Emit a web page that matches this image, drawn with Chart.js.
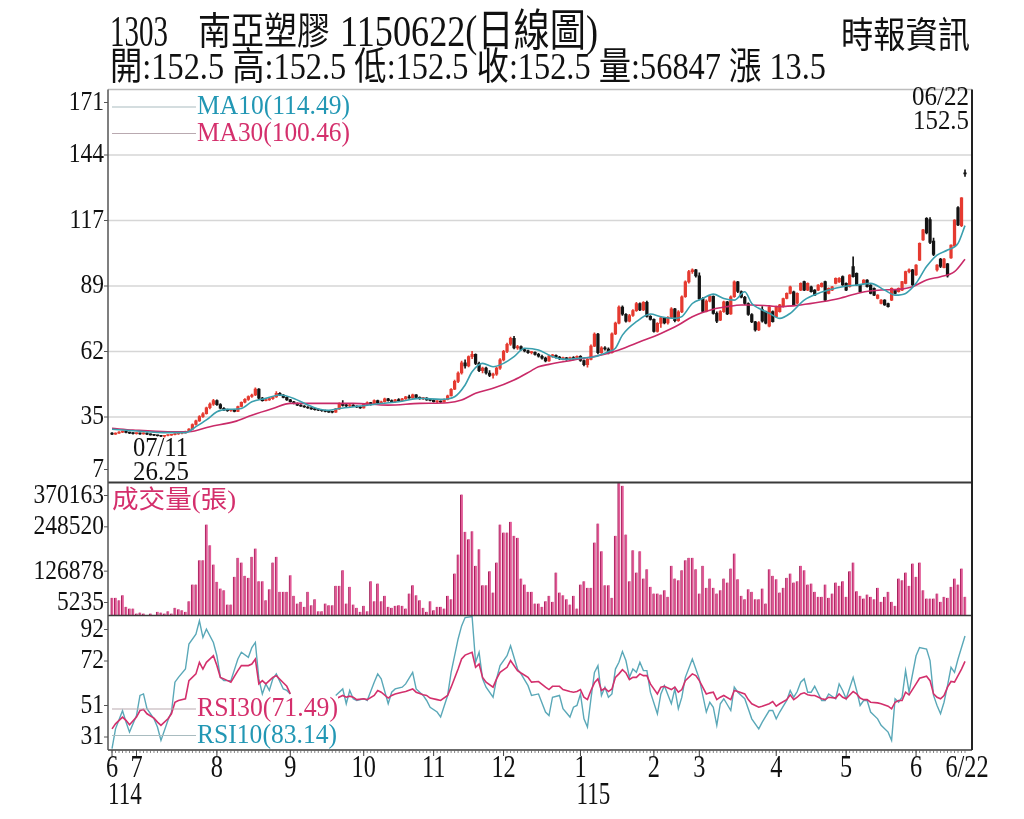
<!DOCTYPE html>
<html><head><meta charset="utf-8">
<script src="https://cdn.jsdelivr.net/npm/chart.js@4.4.1/dist/chart.umd.min.js"></script>
<style>html,body{margin:0;padding:0;background:#fff;}canvas{display:block;}</style>
</head><body>
<canvas id="c" width="1024" height="819"></canvas>
<script>
// ---------------- DATA ----------------
const titleCode = '1303';
const titleName = '南亞塑膠';
const titleDate = '1150622(日線圖)';
const quoteLine = '開:152.5 高:152.5 低:152.5 收:152.5 量:56847 漲 13.5';
const sourceText = '時報資訊';

const monthLabels = ['6','7','8','9','10','11','12','1','2','3','4','5','6'];
const monthDays   = [7,23,21,21,20,20,22,21,13,22,20,20,15];
const lastDayLabel = '6/22';
const yearLabels = ['114','115'];
const yearMonthIndex = [0,7];

const priceTickLabels = ['7','35','62','89','117','144','171'];
const priceRange = [7.3, 171.3];
const volTickLabels = ['5235','126878','248520','370163'];
const volRange = [5235, 370163];
const rsiTickLabels = ['31','51','72','92'];
const rsiRange = [30.9, 92.1];

const openP = [27.9,27.5,27.9,28.3,28.6,28.2,27.9,27.7,27.8,27.6,
27.9,27.5,27.2,27.0,26.8,26.6,26.9,27.0,27.3,27.6,
27.9,28.0,28.6,29.6,31.5,33.0,34.8,36.0,38.5,40.0,
41.5,39.8,38.3,37.6,37.3,37.5,37.0,39.0,40.8,42.0,
43.2,43.8,46.3,42.5,41.5,41.8,42.3,43.0,44.5,43.8,
42.8,41.8,41.0,40.3,39.6,39.2,38.8,38.4,38.0,37.7,
37.5,37.3,37.0,36.7,36.6,38.0,40.0,39.5,39.3,39.6,
39.1,38.8,38.4,40.0,40.6,39.9,41.5,40.5,41.0,42.2,
41.5,41.0,41.8,41.5,42.2,43.0,42.6,43.9,42.8,42.3,
42.5,41.8,41.6,41.0,41.2,40.9,42.0,43.5,46.2,49.5,
53.0,57.2,56.0,59.8,60.8,57.0,54.0,55.0,53.0,52.0,
52.5,55.0,58.5,62.0,65.0,67.5,63.5,64.0,62.8,62.2,
61.5,61.6,60.8,60.0,59.2,58.0,60.2,60.4,59.6,59.0,
59.3,58.6,59.4,58.8,60.0,58.2,56.5,58.7,64.2,69.2,
61.5,63.5,63.0,61.5,69.3,73.8,80.5,77.5,74.6,77.0,
79.0,82.0,79.3,82.5,76.6,75.4,70.3,73.7,76.0,73.9,
76.2,79.8,74.8,78.5,84.8,91.0,95.3,96.0,93.5,84.0,
78.7,83.0,85.0,77.9,75.0,78.6,82.7,77.6,84.8,91.0,
87.0,84.6,82.0,77.4,74.3,71.0,79.5,78.6,72.5,78.6,
76.5,78.6,80.7,84.1,86.2,86.9,82.1,87.6,91.1,87.6,
89.0,87.6,87.6,89.0,91.1,86.2,87.6,90.4,91.0,93.2,
90.4,89.0,97.4,94.6,89.7,90.4,91.8,89.7,88.3,84.1,
82.0,83.4,82.0,83.4,87.6,86.9,87.6,90.4,95.3,96.0,
93.9,100.1,108.5,117.5,117.0,108.0,96.0,100.5,97.0,98.5,
101.0,106.0,122.0,114.5,136.5];

const highP = [28.1,28.0,28.5,28.8,28.7,28.3,28.1,28.0,27.9,28.0,
28.0,27.6,27.3,27.1,26.9,27.0,27.2,27.4,27.7,28.0,
28.2,28.8,29.8,31.8,33.3,35.2,36.5,38.8,40.5,42.0,
41.8,40.2,38.6,37.9,37.8,37.7,39.2,41.0,42.3,43.5,
44.2,46.8,46.5,42.8,42.2,42.6,43.3,45.2,44.8,44.0,
43.0,42.0,41.2,40.5,39.8,39.4,39.0,38.6,38.2,37.9,
37.7,37.5,37.3,36.9,38.2,40.5,41.5,40.0,39.9,39.8,
39.3,39.0,40.2,41.0,40.8,41.8,41.7,41.3,42.5,42.4,
41.8,42.0,42.3,42.4,43.3,43.8,44.2,44.0,43.0,42.8,
42.7,42.2,41.9,41.5,41.4,42.2,43.8,46.5,50.0,53.5,
58.0,58.5,60.2,62.0,61.0,57.5,55.5,55.5,54.0,53.0,
55.5,59.0,62.5,65.5,68.0,68.3,64.5,64.3,63.2,62.6,
62.0,61.8,61.2,60.5,59.6,60.5,60.8,60.6,60.0,59.6,
59.5,59.6,59.8,60.2,60.3,58.5,59.0,64.8,69.8,69.5,
64.0,64.0,63.5,69.8,74.2,81.0,81.0,77.8,77.5,79.5,
82.5,82.3,82.8,83.0,77.0,75.6,74.0,76.5,76.2,76.5,
80.3,80.0,79.0,85.2,91.5,95.8,96.5,96.3,94.8,84.5,
83.5,85.3,85.2,78.5,79.0,83.0,82.9,85.2,91.5,91.2,
87.3,85.0,82.3,77.8,74.6,74.5,80.7,78.8,80.8,78.9,
80.9,81.6,84.3,86.4,89.3,87.2,86.4,90.6,91.4,90.6,
89.3,87.8,89.9,90.6,91.4,88.5,89.2,92.7,92.8,93.5,
90.6,94.1,101.5,94.8,89.9,92.0,92.0,89.9,88.5,85.7,
83.6,83.6,82.2,88.5,87.8,88.5,91.3,95.5,96.5,96.3,
98.2,107.3,112.9,117.8,117.8,109.3,98.2,100.8,100.8,98.8,
106.5,117.0,122.4,126.2,137.8];

const lowP = [27.3,27.4,27.8,28.1,28.0,27.7,27.5,27.5,27.4,27.5,
27.3,27.0,26.8,26.6,26.4,26.25,26.7,26.9,27.2,27.4,
27.6,27.9,28.5,29.5,31.2,32.8,34.5,35.8,38.0,39.5,
39.5,38.0,37.3,37.0,37.0,36.8,36.9,38.8,40.5,41.6,
42.8,43.5,42.2,41.2,41.3,41.6,42.0,42.8,43.5,42.6,
41.6,40.8,40.1,39.4,39.0,38.6,38.2,37.8,37.5,37.3,
37.0,36.8,36.5,36.3,36.5,37.8,39.2,38.8,38.9,38.9,
38.5,38.2,38.3,39.7,39.6,39.8,40.2,40.3,40.8,41.2,
40.8,40.8,41.2,41.3,42.0,42.4,42.4,42.5,42.0,41.9,
41.6,41.3,40.8,40.5,40.6,40.8,41.8,43.3,46.0,49.0,
52.5,55.0,55.5,59.0,56.5,53.5,53.0,52.5,51.5,50.8,
52.0,54.5,58.0,61.5,64.5,63.0,62.8,62.5,61.8,61.2,
61.0,60.4,59.6,58.8,57.6,57.8,59.5,59.2,58.6,58.5,
58.2,58.4,58.5,58.6,57.8,56.0,55.4,58.5,64.0,61.0,
61.2,62.5,61.0,61.3,69.0,73.5,77.0,74.2,74.3,76.6,
78.7,79.0,79.0,76.3,75.0,70.0,70.0,72.0,73.5,73.4,
76.0,74.3,74.5,78.2,84.5,90.5,94.5,93.0,83.5,78.2,
78.5,82.7,77.5,74.0,74.8,78.3,77.3,77.4,84.5,86.5,
84.3,81.5,77.0,74.0,70.5,70.7,74.2,73.5,72.2,74.2,
76.3,78.4,80.5,83.9,86.0,81.2,81.9,87.4,87.4,87.4,
86.7,85.3,87.4,88.8,83.2,86.0,87.4,90.2,90.8,89.5,
87.4,88.8,93.0,89.5,86.7,90.2,88.8,86.0,85.3,83.9,
81.8,81.2,80.5,83.2,86.0,86.7,87.4,90.2,94.8,89.5,
93.7,99.9,108.3,111.0,107.0,102.0,95.5,97.0,96.8,93.0,
100.8,105.7,114.5,114.1,135.0];

const closeP = [27.5,27.9,28.3,28.6,28.2,27.9,27.7,27.8,27.6,27.9,
27.5,27.2,27.0,26.8,26.6,26.9,27.0,27.3,27.6,27.9,
28.0,28.6,29.6,31.5,33.0,34.8,36.0,38.5,40.0,41.5,
39.8,38.3,37.6,37.3,37.5,37.0,39.0,40.8,42.0,43.2,
43.8,46.3,42.5,41.5,41.8,42.3,43.0,44.5,43.8,42.8,
41.8,41.0,40.3,39.6,39.2,38.8,38.4,38.0,37.7,37.5,
37.3,37.0,36.7,36.6,38.0,40.0,39.5,39.3,39.6,39.1,
38.8,38.4,40.0,40.6,39.9,41.5,40.5,41.0,42.2,41.5,
41.0,41.8,41.5,42.2,43.0,42.6,43.9,42.8,42.3,42.5,
41.8,41.6,41.0,41.2,40.9,42.0,43.5,46.2,49.5,53.0,
57.2,56.0,59.8,60.8,57.0,54.0,55.0,53.0,52.0,52.5,
55.0,58.5,62.0,65.0,67.5,63.5,64.0,62.8,62.2,61.5,
61.6,60.8,60.0,59.2,58.0,60.2,60.4,59.6,59.0,59.3,
58.6,59.4,58.8,60.0,58.2,56.5,58.7,64.2,69.2,61.5,
63.5,63.0,61.5,69.3,73.8,80.5,77.5,74.6,77.0,79.0,
82.0,79.3,82.5,76.6,75.4,70.3,73.7,76.0,73.9,76.2,
79.8,74.8,78.5,84.8,91.0,95.3,96.0,93.5,84.0,78.7,
83.0,85.0,77.9,74.6,78.6,82.7,77.6,84.8,91.0,87.0,
84.6,82.0,77.4,74.3,71.0,74.0,74.6,73.8,80.5,74.4,
80.7,81.4,84.1,86.2,89.0,81.4,86.2,90.4,87.6,90.4,
86.9,85.5,89.7,90.4,83.4,88.3,89.0,92.5,92.5,89.7,
87.6,93.9,93.2,89.7,86.9,91.8,89.0,86.2,85.5,85.5,
83.4,81.4,80.7,88.3,86.2,88.3,91.1,95.3,96.0,89.7,
98.0,107.1,112.7,111.5,107.5,102.5,98.0,97.5,100.5,93.5,
106.4,116.8,114.8,126.1,136.5];

const volume = [53700,53700,47300,61000,29000,24400,24400,10700,13500,10700,
6100,10700,6100,15300,13500,10700,17100,10700,26300,22600,
19900,15300,44600,90300,90300,157000,157000,255000,198200,145200,
97600,79300,74700,35400,35400,111300,163500,150700,114100,108600,
166200,189100,99400,99400,47300,77500,150700,166200,70200,70200,
70200,115900,59200,38200,42700,29000,70200,33600,50000,17100,
17100,38200,33600,33600,86600,86600,129600,38200,83900,35400,
26300,15300,31800,17100,99400,44600,93000,44600,59200,29000,
26300,31800,33600,31800,24400,65600,88500,61000,47300,26300,
15300,44600,19900,29000,29000,24400,59200,50000,120500,172600,
337200,234800,214700,236600,141500,187200,88500,88500,126900,68300,
150700,255000,233000,233000,262200,223800,218300,106800,90300,70200,
70200,38200,38200,
29000,44600,59200,42700,123200,68300,61000,50000,35400,59200,
24400,90300,99400,81100,81100,205500,257700,181800,88500,88500,
53700,223800,370163,361000,227500,99400,184500,123200,181800,106800,
132400,83900,65600,65600,62900,74700,56400,141500,106800,102200,
129600,157000,163500,163500,132400,65600,141500,81100,106800,81100,
65600,74700,106800,95800,134200,175400,104900,59200,50000,77500,
70200,50000,50000,79300,38200,132400,114100,104900,68300,81100,
108600,120500,95800,99400,141500,129600,90300,93000,70200,56400,
56400,90300,53700,65600,95800,86600,99400,56400,126900,150700,
72000,59200,51900,62900,56400,50000,81100,42700,56400,70200,
42700,31800,106800,102200,123200,86600,147900,111300,150700,74700,
51900,51900,51900,65600,42700,56400,53700,83900,106800,90300,
134200,56847];

// moving averages: [day index, value]
const ma10 = [[0,29.5],[6,28.9],[16,28.1],[21,28.1],[24,30.6],[27,33.4],[30,36.8],[33,37.8],[37,38.2],[40,41.0],[44,42.4],[48,43.8],[52,42.4],[56,39.6],[59,38.0],[62,37.4],[65,38.2],[71,39.2],[77,40.3],[82,41.0],[88,42.4],[94,42.0],[98,43.1],[101,48.0],[103,53.5],[106,57.0],[109,55.6],[112,57.0],[115,59.8],[118,63.3],[122,62.6],[126,59.8],[130,58.7],[134,59.2],[138,59.8],[142,61.9],[144,63.3],[146,68.8],[150,74.4],[154,77.6],[157,76.5],[161,75.8],[163,76.5],[166,82.0],[169,84.1],[172,85.9],[175,84.1],[178,83.4],[181,86.9],[183,82.0],[185,80.0],[188,77.9],[191,75.8],[194,77.9],[198,83.4],[202,86.2],[205,87.6],[209,89.0],[213,89.7],[217,90.4],[221,87.6],[224,85.5],[227,86.2],[230,90.4],[233,97.4],[236,102.2],[239,104.3],[242,107.1],[244,114.49]];
const ma30 = [[0,29.9],[6,29.2],[16,28.5],[22,28.5],[28,30.6],[35,32.7],[40,35.4],[46,38.2],[51,40.3],[56,40.3],[62,40.3],[69,40.3],[79,39.6],[88,40.3],[96,40.6],[100,41.7],[104,44.5],[109,46.6],[115,50.1],[120,54.0],[122,55.6],[125,56.6],[132,58.4],[140,60.5],[145,62.6],[151,66.0],[157,69.5],[162,73.0],[166,76.5],[172,79.6],[176,80.7],[180,81.4],[183,81.4],[188,81.0],[191,80.7],[197,81.4],[203,82.7],[208,84.1],[214,86.5],[220,87.6],[225,87.9],[229,89.0],[233,91.8],[237,93.2],[241,95.3],[244,100.46]];

// RSI: [day index, value]; null = hidden behind the legend
const rsi10 = [[0,31.5],[1,40.6],[3,48.9],[4,43.7],[5,39.1],[7,46.7],[8,55.9],[9,56.6],[10,49.8],[12,45.2],[13,41.4],[14,35.3],[16,44.5],[17,48.3],[18,62.0],[19,64.2],[21,68.0],[22,79.5],[24,84.0],[25,90.1],[26,82.5],[27,86.3],[29,80.2],[30,74.1],[31,64.2],[32,62.7],[34,62.7],[36,72.6],[37,75.7],[39,73.4],[40,77.9],[41,80.2],[42,63.5],[43,56.6],[44,61.2],[45,58.2],[46,63.5],[47,65.8],[49,58.9],[50,58.2],[51,56.6],[52,null],[64,55.9],[66,58.9],[67,52.1],[68,58.2],[69,54.4],[70,53.6],[72,54.4],[73,53.6],[75,62.0],[76,65.8],[77,63.5],[79,52.1],[80,57.4],[81,58.9],[83,59.7],[84,61.2],[86,66.5],[87,58.9],[89,55.9],[90,53.6],[91,50.5],[93,48.3],[94,46.0],[96,55.9],[97,66.5],[99,81.8],[100,87.8],[101,91.6],[103,92.1],[104,71.1],[105,75.7],[106,63.5],[107,59.7],[109,55.1],[110,63.5],[111,69.6],[113,74.1],[114,78.7],[116,68.0],[117,65.8],[119,60.4],[120,55.9],[122,56.6],[124,48.3],[125,46.7],[126,55.1],[128,55.9],[129,49.8],[131,46.0],[132,50.5],[133,51.3],[134,56.6],[135,45.2],[136,41.4],[137,54.4],[138,66.5],[139,69.6],[140,55.9],[141,59.7],[142,55.1],[143,56.6],[144,68.0],[145,71.1],[146,76.0],[147,71.9],[148,64.2],[149,68.0],[150,66.5],[151,71.1],[152,67.3],[153,67.3],[154,57.4],[156,47.5],[157,56.6],[158,60.4],[160,52.1],[161,58.9],[162,49.8],[163,55.1],[164,64.2],[166,72.6],[167,68.0],[168,63.5],[170,48.3],[171,52.8],[172,50.5],[173,42.2],[174,52.1],[175,54.4],[177,49.0],[178,59.7],[179,57.4],[181,54.4],[182,49.8],[183,45.2],[185,40.6],[186,43.7],[188,49.0],[189,49.0],[190,45.2],[191,48.3],[193,53.6],[194,58.2],[195,55.1],[196,57.7],[197,62.0],[198,63.5],[199,57.4],[200,57.4],[201,60.1],[203,53.6],[204,53.6],[205,56.6],[207,54.4],[208,61.2],[209,58.2],[210,54.4],[212,64.2],[213,58.2],[214,51.3],[215,53.6],[216,53.6],[217,48.3],[219,45.2],[220,42.2],[222,39.1],[223,35.3],[224,54.4],[225,52.8],[226,55.1],[227,67.3],[228,57.4],[230,74.1],[231,77.9],[233,77.2],[234,71.9],[235,55.9],[236,51.3],[237,47.5],[238,52.8],[239,60.4],[240,68.8],[241,66.5],[242,72.6],[243,77.9],[244,83.14]];
const rsi30 = [[0,40.6],[1,42.9],[3,46.0],[4,44.5],[5,42.5],[7,46.0],[8,49.0],[9,49.5],[10,47.5],[12,45.5],[13,43.7],[14,42.2],[16,45.2],[17,47.5],[18,52.8],[19,53.6],[21,54.4],[22,62.7],[24,65.8],[25,71.1],[26,68.0],[27,71.1],[29,74.1],[30,69.6],[31,64.2],[32,63.5],[34,62.0],[36,67.3],[37,69.6],[39,69.6],[40,70.3],[41,72.6],[42,61.2],[43,62.7],[44,61.2],[45,62.7],[46,64.2],[47,65.0],[49,61.7],[50,60.1],[51,56.6],[52,null],[64,54.4],[66,55.9],[67,55.1],[68,55.6],[69,55.1],[70,54.0],[72,54.4],[73,54.0],[75,55.9],[76,58.2],[77,57.4],[79,54.7],[80,55.9],[81,56.6],[83,57.4],[84,57.7],[86,58.9],[87,57.4],[89,56.2],[90,55.9],[91,54.7],[93,54.0],[94,53.6],[96,55.9],[97,59.7],[99,68.0],[100,72.6],[101,74.4],[103,75.7],[104,68.8],[105,70.3],[106,64.2],[107,62.0],[109,59.7],[110,63.5],[111,66.5],[113,68.8],[114,71.9],[116,67.3],[117,66.2],[119,64.2],[120,62.0],[122,62.3],[124,59.7],[125,58.6],[126,60.1],[128,60.1],[129,58.6],[131,57.7],[132,57.4],[133,57.7],[134,58.6],[135,55.1],[136,54.0],[137,58.2],[138,61.7],[139,63.5],[140,58.2],[141,59.2],[142,57.7],[143,58.9],[144,64.2],[145,65.8],[146,67.7],[147,66.2],[148,63.2],[149,64.2],[150,64.2],[151,65.8],[152,65.0],[153,65.0],[154,61.2],[156,56.6],[157,59.7],[158,60.1],[160,58.6],[161,59.7],[162,57.4],[163,58.6],[164,62.7],[166,65.8],[167,65.0],[168,62.7],[170,56.6],[171,57.1],[172,57.4],[173,54.0],[174,55.1],[175,55.9],[177,54.0],[178,58.2],[179,57.7],[181,56.6],[182,54.0],[183,52.1],[185,50.5],[186,51.0],[188,52.1],[189,53.1],[190,51.0],[191,52.1],[193,54.0],[194,56.2],[195,54.0],[196,55.1],[197,56.6],[198,57.1],[199,56.2],[200,55.9],[201,55.9],[203,54.4],[204,54.0],[205,55.1],[207,54.7],[208,56.6],[209,55.1],[210,54.4],[212,57.7],[213,56.6],[214,54.7],[215,54.0],[216,54.0],[217,52.8],[219,52.5],[220,52.1],[222,51.0],[223,49.8],[224,52.8],[225,53.6],[226,53.6],[227,57.4],[228,56.2],[230,61.2],[231,63.8],[233,64.7],[234,62.7],[235,56.6],[236,55.1],[237,54.4],[238,55.9],[239,59.7],[240,62.3],[241,62.0],[242,65.0],[243,68.0],[244,71.49]];

const ma10Label = 'MA10(114.49)';
const ma30Label = 'MA30(100.46)';
const rsi30Label = 'RSI30(71.49)';
const rsi10Label = 'RSI10(83.14)';
const volLabel = '成交量(張)';
const lowNote = ['07/11','26.25'];
const highNote = ['06/22','152.5'];

// ---------------- LAYOUT / STYLE ----------------
const LAY = {left:108, right:972, top:89.5, priceBottom:482.5, volBottom:615.5, rsiTop:616.5, bottom:750};
const X_MIN = -1.15, X_MAX = 246.0;
const SERIF = '"Liberation Serif","Noto Sans CJK TC",serif';
const C = {up:'#e53a30', down:'#141414', vol:'#e25a97', volEdge:'#a3215a', ma10:'#3a9fae', ma30:'#c92a68',
  rsi10:'#5aa8b8', rsi30:'#d3306c', teal:'#2297b4', pink:'#d42f6c', grid:'#d6d6d6'};

function stretch(vmin, vmax, pTop, pBottom){
  const upp = (vmax - vmin) / (pBottom - pTop);
  return {min: vmin - (LAY.bottom - pBottom) * upp, max: vmax + (pTop - LAY.top) * upp};
}
const eP = stretch(priceRange[0], priceRange[1], LAY.top, LAY.priceBottom);
const eV = stretch(volRange[0], volRange[1], LAY.priceBottom, LAY.volBottom);
const eR = stretch(rsiRange[0], rsiRange[1], LAY.rsiTop, LAY.bottom);

const days = closeP.map((_, i) => i);
const candleColors = days.map(i => closeP[i] > openP[i] ? C.up : C.down);
const pts = arr => arr.map(p => ({x: p[0], y: p[1]}));

function drawText(ctx, s, x, y, o){
  ctx.save();
  ctx.font = o.size + 'px ' + (o.family || SERIF);
  ctx.fillStyle = o.color || '#111';
  ctx.textBaseline = 'middle';
  ctx.textAlign = 'left';
  const w = ctx.measureText(s).width;
  const sx = o.width ? o.width / w : (o.sx || 1);
  const dw = w * sx;
  let left = x;
  if (o.align === 'right') left = x - dw; else if (o.align === 'center') left = x - dw / 2;
  ctx.translate(left, y); ctx.scale(sx, 1);
  ctx.fillText(s, 0, 0);
  ctx.restore();
}
function hline(ctx, x1, x2, y, color, w){ ctx.save(); ctx.strokeStyle=color; ctx.lineWidth=w; ctx.beginPath(); ctx.moveTo(x1,y); ctx.lineTo(x2,y); ctx.stroke(); ctx.restore(); }
function vline(ctx, x, y1, y2, color, w){ ctx.save(); ctx.strokeStyle=color; ctx.lineWidth=w; ctx.beginPath(); ctx.moveTo(x,y1); ctx.lineTo(x,y2); ctx.stroke(); ctx.restore(); }

const overlay = {
  id: 'overlay',
  beforeDraw(chart){
    const ctx = chart.ctx;
    ctx.save(); ctx.fillStyle = '#fff'; ctx.fillRect(0,0,chart.width,chart.height); ctx.restore();
  },
  beforeDatasetsDraw(chart){
    const ctx = chart.ctx, s = chart.scales.yP;
    const n = priceTickLabels.length - 1;
    for (let k = 1; k < n; k++){
      const v = priceRange[0] + k * (priceRange[1] - priceRange[0]) / n;
      hline(ctx, LAY.left, LAY.right, s.getPixelForValue(v), C.grid, 1.6);
    }
  },
  afterDatasetsDraw(chart){
    const ctx = chart.ctx, sx = chart.scales.x;
    // white box behind RSI legend
    ctx.save(); ctx.fillStyle = '#fff'; ctx.fillRect(197, 697, 141, 51); ctx.restore();
    // frame
    hline(ctx, LAY.left, LAY.right, LAY.top, '#bdbdbd', 1.5);
    hline(ctx, LAY.left, LAY.right, LAY.priceBottom, '#3a3a3a', 2);
    hline(ctx, LAY.left, LAY.right, LAY.volBottom, '#3a3a3a', 1.5);
    hline(ctx, LAY.left, LAY.right, LAY.bottom, '#3a3a3a', 1.5);
    vline(ctx, LAY.left, LAY.top, LAY.bottom, '#555', 1.5);
    vline(ctx, LAY.right, LAY.top, LAY.bottom, '#222', 2);

    // y tick labels
    const yLabels = (labels, range, scale, top, bottom) => {
      const n = labels.length - 1;
      labels.forEach((lab, k) => {
        const v = range[0] + k * (range[1] - range[0]) / n;
        let y = scale.getPixelForValue(v);
        y = Math.min(Math.max(y, top + 13), bottom - 13);
        hline(ctx, LAY.left - 4, LAY.left, y, '#555', 1);
        drawText(ctx, lab, 104, y, {size: 28, sx: 0.84, align: 'right', color: '#111'});
      });
    };
    yLabels(priceTickLabels, priceRange, chart.scales.yP, LAY.top, LAY.priceBottom);
    yLabels(volTickLabels, volRange, chart.scales.yV, LAY.priceBottom, LAY.volBottom);
    yLabels(rsiTickLabels, rsiRange, chart.scales.yR, LAY.rsiTop, LAY.bottom);

    // x ticks
    const starts = []; let acc = 0;
    monthDays.forEach(d => { starts.push(acc); acc += d; });
    days.forEach(i => vline(ctx, sx.getPixelForValue(i), LAY.bottom, LAY.bottom + 3, '#666', 0.8));
    starts.forEach(i => vline(ctx, sx.getPixelForValue(i), LAY.bottom, LAY.bottom + 6, '#444', 1));
    monthLabels.forEach((lab, m) => {
      drawText(ctx, lab, sx.getPixelForValue(starts[m]), 769, {size: 32, sx: 0.76, align: 'center'});
    });
    drawText(ctx, lastDayLabel, sx.getPixelForValue(days.length - 1) + 2, 769, {size: 32, sx: 0.76, align: 'center'});
    yearLabels.forEach((lab, k) => {
      drawText(ctx, lab, sx.getPixelForValue(starts[yearMonthIndex[k]]) - 4, 796, {size: 32, sx: 0.72});
    });

    // legends
    hline(ctx, 112, 196, 107, '#a9bcc0', 1.2);
    hline(ctx, 112, 196, 133.5, '#b9a9b0', 1.2);
    drawText(ctx, ma10Label, 197, 107, {size: 27, width: 153, color: C.teal});
    drawText(ctx, ma30Label, 197, 133.5, {size: 27, width: 153, color: C.pink});
    drawText(ctx, highNote[0], 969, 98, {size: 27, width: 57, align: 'right'});
    drawText(ctx, highNote[1], 969, 122, {size: 27, width: 56, align: 'right'});
    drawText(ctx, lowNote[0], 133, 449, {size: 27, width: 55});
    drawText(ctx, lowNote[1], 133, 473, {size: 27, width: 56});
    drawText(ctx, volLabel, 112, 501, {size: 25, width: 124, color: C.pink});
    hline(ctx, 112, 196, 709, '#b9aab0', 1.2);
    hline(ctx, 112, 196, 735.5, '#a9bcc0', 1.2);
    drawText(ctx, rsi30Label, 197, 709, {size: 27, width: 141, color: C.pink});
    drawText(ctx, rsi10Label, 197, 736, {size: 27, width: 140, color: C.teal});

    // header
    drawText(ctx, titleCode, 110, 34, {size: 44, width: 58});
    drawText(ctx, titleName, 198, 34, {size: 38, width: 132});
    drawText(ctx, titleDate, 340, 34, {size: 44, width: 258});
    drawText(ctx, quoteLine, 110, 69, {size: 38, width: 716});
    drawText(ctx, sourceText, 841, 39, {size: 36, width: 129});
  }
};

new Chart(document.getElementById('c'), {
  type: 'bar',
  data: {
    datasets: [
      {type:'line', label:'MA10', data: pts(ma10), yAxisID:'yP', borderColor:C.ma10, borderWidth:1.6, pointRadius:0, cubicInterpolationMode:'monotone', order:1},
      {type:'line', label:'MA30', data: pts(ma30), yAxisID:'yP', borderColor:C.ma30, borderWidth:1.6, pointRadius:0, cubicInterpolationMode:'monotone', order:1},
      {type:'line', label:'RSI30', data: pts(rsi30), yAxisID:'yR', borderColor:C.rsi30, borderWidth:1.6, pointRadius:0, tension:0, spanGaps:false, order:1},
      {type:'line', label:'RSI10', data: pts(rsi10), yAxisID:'yR', borderColor:C.rsi10, borderWidth:1.4, pointRadius:0, tension:0, spanGaps:false, order:1},
      {type:'bar', label:'wick', data: days.map(i => ({x:i, y:[lowP[i], highP[i]]})), yAxisID:'yP', backgroundColor: candleColors, barThickness:1, grouped:false, order:3},
      {type:'bar', label:'body', data: days.map(i => ({x:i, y:[openP[i], closeP[i]]})), yAxisID:'yP', backgroundColor: candleColors, barThickness:2.6, minBarLength:1, grouped:false, order:2},
      {type:'bar', label:'volume', data: days.map(i => ({x:i, y:[volRange[0], volume[i]]})), yAxisID:'yV', backgroundColor: C.vol, borderColor: C.volEdge, borderWidth:{left:1, right:0, top:0, bottom:0}, barThickness:2.6, grouped:false, order:2}
    ]
  },
  options: {
    responsive:false, animation:false, events:[],
    layout:{padding:{left:LAY.left, right:1024-LAY.right, top:LAY.top, bottom:819-LAY.bottom}},
    plugins:{legend:{display:false}, tooltip:{enabled:false}},
    scales:{
      x:{type:'linear', min:X_MIN, max:X_MAX, offset:false, display:false},
      yP:{type:'linear', position:'left', min:eP.min, max:eP.max, display:false},
      yV:{type:'linear', position:'left', min:eV.min, max:eV.max, display:false},
      yR:{type:'linear', position:'left', min:eR.min, max:eR.max, display:false}
    }
  },
  plugins:[overlay]
});
</script>
</body></html>
